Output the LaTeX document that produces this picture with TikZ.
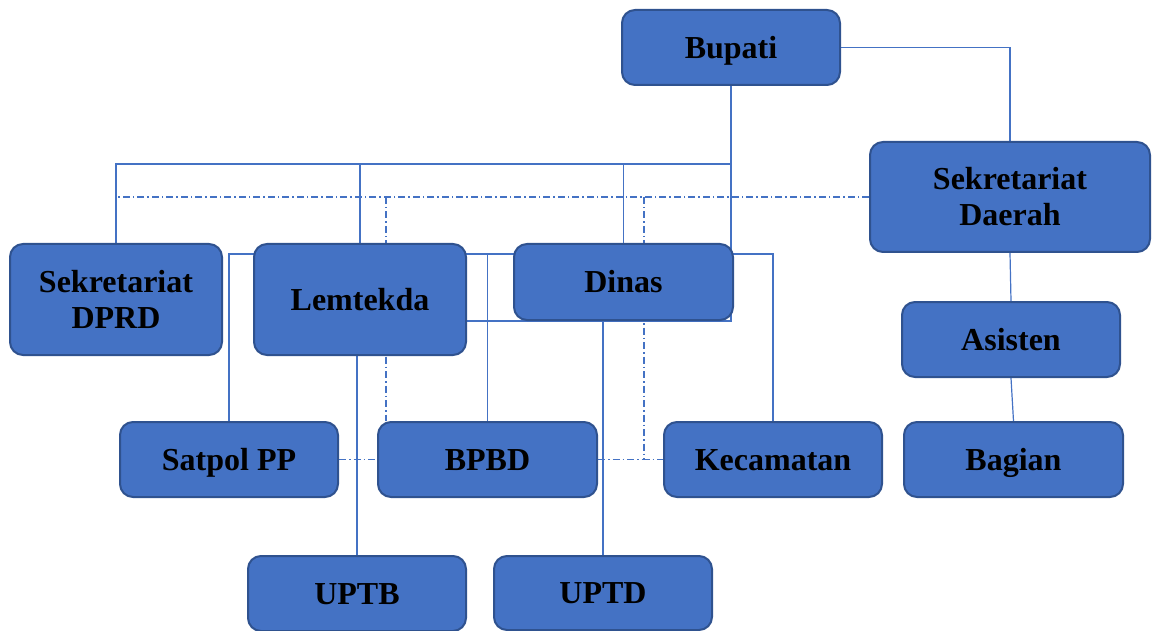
\documentclass[tikz,border=0pt]{standalone}
\usepackage{fontspec}
\setmainfont{Liberation Serif}
\usetikzlibrary{backgrounds}
\definecolor{boxfill}{HTML}{4472C4}
\definecolor{boxline}{HTML}{2F528F}
\definecolor{linkcol}{HTML}{4472C4}
\begin{document}
\begin{tikzpicture}[x=1pt,y=-1pt,
  unit/.style={draw=boxline, line width=2pt, fill=boxfill, rounded corners=13pt,
    inner sep=0pt, align=center, text=black,
    font=\fontsize{32}{36}\selectfont\bfseries},
  oneline/.style={unit, text height=28.5pt, text depth=6.9pt},
  link/.style={draw=linkcol, line width=1.2pt},
  dd/.style={draw=linkcol, line width=1.2pt, dash pattern=on 7pt off 3pt on 1.5pt off 3pt}]
\useasboundingbox (0,0) rectangle (1157,631);

% organisation units
\node[oneline, minimum width=218pt, minimum height=75pt]  (bupati)    at (731,47.5) {Bupati};
\node[unit,    minimum width=280pt, minimum height=110pt] (sekda)     at (1010,197) {Sekretariat\\Daerah};
\node[unit,    minimum width=212pt, minimum height=111pt] (dprd)      at (116,299.5) {Sekretariat\\DPRD};
\node[oneline, minimum width=212pt, minimum height=111pt] (lemtekda)  at (360,299.5) {Lemtekda};
\node[oneline, minimum width=219pt, minimum height=76pt]  (dinas)     at (623.5,282) {Dinas};
\node[oneline, minimum width=218pt, minimum height=75pt]  (asisten)   at (1011,339.5) {Asisten};
\node[oneline, minimum width=218pt, minimum height=75pt]  (satpol)    at (229,459.5) {Satpol PP};
\node[oneline, minimum width=219pt, minimum height=75pt]  (bpbd)      at (487.5,459.5) {BPBD};
\node[oneline, minimum width=218pt, minimum height=75pt]  (kecamatan) at (773,459.5) {Kecamatan};
\node[oneline, minimum width=219pt, minimum height=75pt]  (bagian)    at (1013.5,459.5) {Bagian};
\node[oneline, minimum width=218pt, minimum height=75pt]  (uptb)      at (357,593.5) {UPTB};
\node[oneline, minimum width=218pt, minimum height=74pt]  (uptd)      at (603,593) {UPTD};

% junction points of the connector lines
\coordinate (cmdbus) at (731,164);
\coordinate (rowbus) at (229,254);
\coordinate (coordA) at (386,197);
\coordinate (coordB) at (644,197);
\coordinate (coordC) at (644,459.5);

\begin{scope}[on background layer]
  % lines of command
  \draw[link] (bupati.south) -- (bupati.south |- dinas.south) -- (lemtekda.east |- dinas.south);
  \draw[link] (dprd.north) |- (cmdbus);
  \draw[link] (lemtekda.north) -- (lemtekda.north |- cmdbus);
  \draw[link] (dinas.north) -- (dinas.north |- cmdbus);
  \draw[link] (bupati.east) -| (sekda.north);
  \draw[link] (sekda.south) -- (asisten.north);
  \draw[link] (asisten.south) -- (bagian.north);
  \draw[link] (satpol.north) -- (rowbus) -- (rowbus -| kecamatan.north) -- (kecamatan.north);
  \draw[link] (bpbd.north) -- (bpbd.north |- rowbus);
  \draw[link] (uptb.north) -- (uptb.north |- lemtekda.south);
  \draw[link] (uptd.north) -- (uptd.north |- dinas.south);
  % lines of coordination
  \draw[dd] (sekda.west) -- (dprd.north |- sekda.west) -- (dprd.north);
  \draw[dd] (coordA) -- (coordA |- bpbd.north);
  \draw[dd] (coordB) -- (coordC) -- (kecamatan.west);
  \draw[dd] (bpbd.east) -- (coordC);
  \draw[dd] (satpol.east) -- (bpbd.west);
\end{scope}
\end{tikzpicture}
\end{document}
